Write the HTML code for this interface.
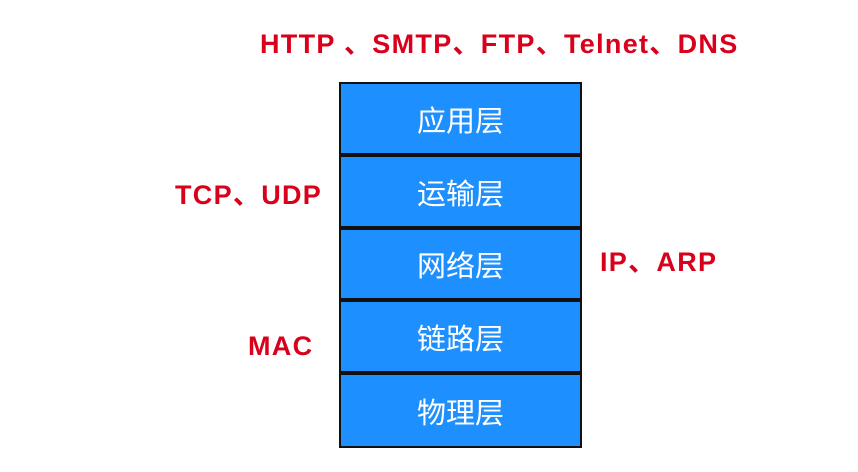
<!DOCTYPE html>
<html><head><meta charset="utf-8"><style>
body{margin:0;width:858px;height:472px;background:#fff;position:relative;overflow:hidden;font-family:"Liberation Sans","Noto Sans CJK SC",sans-serif}
.b{position:absolute;left:339px;width:239px;background:#1e8ffe;border:2px solid #111;color:#fff;font-size:29px;display:flex;align-items:center;justify-content:center}
.r{position:absolute;color:#d8001b;font-weight:bold;font-size:27px;white-space:nowrap;line-height:1;letter-spacing:1.3px}
</style></head><body>
<div class="b" style="top:82px;height:69px">应用层</div>
<div class="b" style="top:155px;height:69px">运输层</div>
<div class="b" style="top:228px;height:68px">网络层</div>
<div class="b" style="top:300px;height:69px">链路层</div>
<div class="b" style="top:373px;height:71px">物理层</div>
<div class="r" style="left:260px;top:31px">HTTP 、SMTP、FTP、Telnet、DNS</div>
<div class="r" style="left:175px;top:182px">TCP、UDP</div>
<div class="r" style="left:600px;top:249px">IP、ARP</div>
<div class="r" style="left:248px;top:333px">MAC</div>
</body></html>
